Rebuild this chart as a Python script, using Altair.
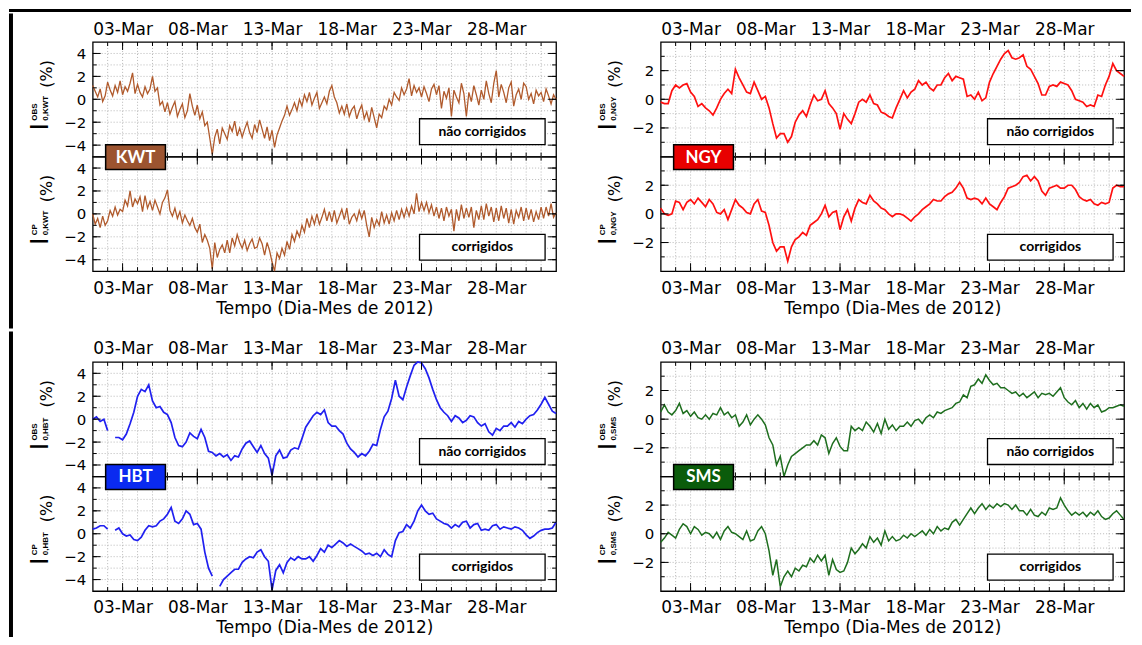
import altair as alt
import pandas as pd
from datetime import datetime, timedelta

START = datetime(2012, 3, 1)

# KWT: 6 samples per day (every 4 h); other stations: 4 per day (every 6 h)
kwt_obs = [1.2, 0.7, 0.2, 0.9, -0.2, 0.3,
           1.5, 0.8, 0.3, 1.2, 0.6, 1.6,
           0.4, 1.1, 0.7, 1.4, 2.3, 0.5,
           1.3, 0.6, 0.2, 1.1, 0.5, 0.9,
           2.0, 0.7, 1.0, -0.5, -0.2, -1.1,
           -0.3, -1.3, -0.7, -0.2, -1.5, -0.9,
           -0.4, -1.6, -1.0, 0.5, -0.6, -1.4,
           -0.5, -1.7, -1.1, -2.3, -2.0, -3.4,
           -4.8, -3.3, -2.6, -3.9, -2.5, -3.0,
           -3.5, -2.3, -2.8, -1.9, -3.2, -2.5,
           -3.3, -2.6, -2.0, -2.9, -3.4, -2.2,
           -2.9, -1.8, -2.6, -3.4, -2.4, -3.6,
           -2.7, -4.2, -3.1, -2.5, -1.9, -1.4,
           -0.6, -1.4, -0.9, -0.3, -1.0, 0.0,
           -0.6, 0.4, -0.2, 0.6, -0.5, 0.1,
           0.6, -0.8, -0.3, 0.2, -0.4, 0.7,
           1.2, 0.2, -0.3, -1.2, -0.6, -1.3,
           -0.4, -1.5, -0.9, -0.6, -1.7, -1.0,
           -0.5, -1.7, -1.1, -2.0, -0.7, -1.6,
           -2.5, -1.3, -1.6, -0.6, -0.9, 0.0,
           -0.5, 0.6, 0.2, -0.1, 1.0, 0.4,
           0.9, 1.8, 0.3, 1.2, 0.6, 1.0,
           0.2, 1.1, 0.5, -0.2, 0.9, 1.3,
           0.4, 1.2, -0.8, 0.7, 0.1, 1.0,
           -1.5, 0.8, 0.2, -0.3, 1.4, 0.5,
           -1.5, 0.6, -0.2, 1.2, 0.4, -0.5,
           0.8, 0.0, 1.6, 0.5, -0.3, 1.4,
           2.5, 0.2, 1.3, 0.6, -0.3, 1.0,
           1.5, -0.6, 0.4, 0.9, 0.0, 1.4,
           1.1, 0.0, 0.5, -0.4, 0.8, 0.3,
           0.6, -0.2, 0.9, 0.3, -0.4, 0.4,
           0.0]
kwt_cp = [0.0, -0.9, -0.4, -1.2, -0.2, -1.0,
          -0.6, 0.3, -0.2, 0.6, -0.1, 0.4,
          0.2, 1.2, 0.7, 2.0, 0.6, 1.3,
          0.9, 1.5, 0.2, 1.6, 0.5, 1.1,
          0.3, 1.2, 0.6, 0.0, 1.0, 1.4,
          2.1, 0.3, -0.2, 0.5, -0.4, 0.2,
          -0.8, -0.1, -0.6, -1.0, -0.4, -1.2,
          -1.6, -0.9, -2.5, -1.8, -2.3, -3.0,
          -4.8, -2.5, -3.8, -3.1, -2.7, -3.4,
          -2.3, -3.4, -2.1, -2.8, -1.8, -2.5,
          -3.0, -2.3, -3.2, -2.6, -2.2, -3.0,
          -2.9, -2.1, -2.6, -3.6, -2.5, -3.2,
          -4.2, -5.0, -3.4, -3.9, -3.0, -3.6,
          -2.4, -3.1, -1.8, -2.4, -1.5, -2.0,
          -1.0, -1.6, -0.4, -1.2, -0.2, -0.9,
          0.0, -0.9, -0.3, 0.4, -0.6, 0.2,
          -0.7, 0.3, -0.8, -0.2, 0.4, -0.5,
          0.5, -0.9, -0.3, 0.0, -0.6, 0.3,
          -0.4, 0.3, -1.0, -2.0, -0.3, -1.2,
          -0.5, -1.0, 0.2, -0.8, -0.1, -0.9,
          0.1, -0.6, 0.3, -0.5, 0.4, -0.3,
          0.5, -0.2, 0.7, 0.0, 1.8, 0.2,
          1.0, 0.3, 1.0, 0.1, 0.8, -0.2,
          0.6, -0.4, 0.5, -0.6, 0.6, -0.2,
          0.4, -1.5, 0.4, -0.6, 0.8, -0.4,
          0.5, -0.3, 0.6, -1.2, 0.3, -0.5,
          0.7, -0.5, 0.9, -0.2, 0.6, -0.7,
          0.5, -0.6, 0.7, -0.4, 0.5, -0.8,
          0.4, -0.9, 0.3, -0.3, 0.6, -0.6,
          0.5, -0.5, 0.4, -0.7, 0.2, -0.5,
          0.6, -0.4, 0.6, -0.2, 0.9, -0.3,
          0.1]
ngy_obs = [-0.2, -0.3, -0.3, 0.6, 1.0, 0.8, 1.0, 1.1, 0.5, 0.2, -0.5, -0.3, -0.6, -0.8, -1.1, -0.6,
           0.0, 0.4, 0.7, 0.4, 2.1, 1.5, 1.0, 0.5, 0.4, 1.2, 0.6, 0.0, 0.2, -0.6, -1.7, -2.7,
           -2.4, -2.4, -3.0, -2.6, -1.6, -1.1, -0.8, -1.2, -0.4, 0.3, -0.1, 0.0, 0.6, -0.3, -0.6, -1.0,
           -2.1, -1.0, -1.4, -1.7, -1.0, -0.2, 0.0, -0.2, 0.3, -0.3, -0.4, -0.9, -1.0, -1.2, -1.3, -0.6,
           0.0, 0.6, 0.1, 0.5, 0.7, 1.3, 1.0, 1.2, 0.8, 0.6, 1.0, 1.0, 1.5, 1.8, 1.3, 1.6,
           1.5, 1.4, 0.2, 0.3, 0.0, 0.5, -0.1, 0.1, 1.2, 1.8, 2.3, 2.8, 3.2, 3.4, 2.9, 2.8,
           2.9, 3.1, 2.3, 2.1, 1.6, 1.1, 0.3, 0.3, 0.9, 1.0, 0.9, 1.2, 1.1, 1.0, 0.6, 0.0,
           -0.1, -0.2, -0.5, -0.4, -0.5, 0.3, 0.2, 1.0, 1.6, 2.5, 2.0, 1.8, 1.6]
ngy_cp = [0.4, 0.0, -0.1, 0.0, 0.9, 0.8, 0.3, 0.8, 1.0, 0.7, 1.1, 0.8, 0.5, 1.0, 0.7, 0.1,
          0.0, 0.3, -0.4, 0.3, 1.0, 0.6, 0.4, 0.1, 0.0, 0.7, 1.0, 0.2, 0.1, -0.8, -2.0, -2.6,
          -2.3, -2.3, -3.3, -2.3, -1.8, -1.6, -1.3, -1.5, -0.8, -0.6, -0.4, 0.0, 0.6, -0.2, 0.1, 0.2,
          -1.1, -0.2, 0.3, -0.5, 0.4, 1.0, 0.8, 0.7, 1.3, 0.9, 0.7, 0.4, 0.3, 0.0, -0.2, 0.0,
          0.0, -0.1, -0.3, -0.5, -0.2, 0.0, 0.3, 0.5, 0.7, 1.0, 0.9, 0.9, 1.2, 1.4, 1.5, 1.8,
          2.2, 1.8, 1.1, 1.0, 1.1, 1.0, 0.7, 1.1, 0.7, 0.5, 0.3, 0.8, 1.2, 1.8, 1.9, 2.0,
          2.2, 2.6, 2.7, 2.3, 2.6, 2.3, 1.6, 1.3, 1.8, 1.9, 2.0, 1.8, 1.8, 2.0, 2.0, 1.7,
          1.2, 1.0, 0.9, 1.0, 0.7, 0.6, 0.8, 0.7, 0.8, 1.8, 2.0, 1.9, 1.9]
hbt_obs = [0.0, 0.2, -0.2, 0.0, -1.0, None, -1.6, -1.6, -1.8, -1.3, -0.4, 0.6, 2.0, 2.6, 2.4, 3.0,
           1.6, 1.0, 1.1, 0.6, 0.4, -0.3, -1.6, -2.3, -2.4, -2.0, -1.2, -1.5, -1.7, -0.9, -1.6, -2.8,
           -2.9, -3.2, -3.0, -3.3, -3.1, -3.6, -3.2, -3.3, -2.6, -2.1, -1.9, -2.4, -2.9, -2.3, -3.0, -3.4,
           -4.9, -3.2, -2.7, -3.4, -3.3, -2.7, -2.5, -2.6, -1.7, -0.7, -0.2, 0.3, 0.6, 0.4, 0.8, -0.3,
           -0.6, -0.6, -1.0, -1.3, -2.1, -2.6, -2.9, -3.3, -3.0, -3.2, -2.8, -2.2, -2.3, -0.9, 0.2, 0.7,
           1.8, 3.4, 2.0, 1.7, 2.8, 3.8, 4.7, 5.0, 4.9, 4.4, 3.6, 2.6, 1.7, 1.0, 0.6, 0.3,
           -0.2, 0.3, 0.1, -0.3, -0.1, 0.3, 0.2, -0.3, -0.6, -0.4, -1.1, -1.4, -0.8, -1.0, -0.6, -0.6,
           -0.3, -0.7, -0.2, -0.4, 0.0, 0.3, 0.4, 0.8, 1.3, 1.9, 1.3, 0.7, 0.5]
hbt_cp = [0.4, 0.5, 0.7, 0.7, 0.4, None, 0.3, 0.5, 0.0, -0.2, -0.1, -0.5, -0.6, -0.3, 0.3, 0.7,
          0.6, 0.7, 1.1, 1.3, 1.7, 2.3, 1.1, 0.9, 1.3, 2.0, 1.7, 0.8, 0.9, 0.4, -1.6, -3.0,
          -3.7, None, -4.6, -4.0, -3.7, -3.4, -3.1, -3.1, -2.5, -2.2, -2.0, -2.1, -1.6, -1.4, -2.0, -2.4,
          -4.9, -3.2, -2.7, -3.4, -2.5, -2.1, -2.3, -2.0, -2.2, -2.2, -2.0, -2.4, -1.9, -1.3, -1.6, -1.0,
          -1.2, -0.9, -0.6, -0.8, -1.1, -0.9, -1.1, -1.3, -1.5, -1.8, -1.7, -1.9, -1.7, -2.0, -1.4, -1.8,
          -2.0, -0.6, 0.1, 0.2, 0.8, 0.5, 1.1, 2.0, 2.5, 2.0, 1.7, 1.8, 1.3, 1.1, 0.9, 0.8,
          0.5, 0.8, 0.6, 1.0, 1.1, 0.5, 0.8, 0.9, 0.3, 0.4, 0.3, 0.7, 0.8, 0.4, 0.6, 0.5,
          0.4, 0.6, 0.5, 0.3, -0.1, -0.4, -0.2, 0.1, 0.3, 0.4, 0.4, 0.5, 1.0]
sms_obs = [0.5, 1.0, 0.5, 0.3, 0.6, 1.1, 0.4, 0.6, 0.2, 0.5, 0.1, 0.0, 0.3, 0.0, 0.4, 0.3,
           0.8, 0.3, 0.5, 0.1, 0.3, -0.5, -0.2, 0.3, -0.4, 0.0, 0.3, 0.0, -0.4, -1.3, -1.8, -3.2,
           -2.6, -4.0, -3.2, -2.6, -2.4, -2.2, -2.0, -1.8, -1.8, -1.5, -1.8, -1.1, -1.3, -2.4, -1.7, -1.3,
           -1.9, -2.2, -2.2, -0.5, -0.8, -0.6, -0.8, -0.2, -0.5, -0.9, -0.3, -1.0, 0.0, -0.7, -0.4, -0.8,
           -0.5, -0.5, -0.2, -0.5, -0.1, 0.0, -0.3, 0.1, 0.3, 0.1, 0.5, 0.4, 0.6, 0.7, 0.8, 1.1,
           1.2, 1.7, 1.5, 2.3, 2.4, 2.8, 2.5, 3.1, 2.7, 2.4, 2.5, 2.2, 2.2, 2.0, 1.8, 1.9,
           1.6, 1.8, 1.5, 1.7, 1.9, 1.5, 1.8, 1.7, 1.8, 1.6, 1.9, 2.2, 1.5, 1.2, 1.0, 1.3,
           0.8, 1.1, 0.7, 1.1, 0.8, 1.0, 0.5, 0.6, 0.8, 0.8, 0.9, 1.0, 0.9]
sms_cp = [-0.6, -0.3, 0.1, -0.1, -0.3, 0.3, 0.7, 0.5, 0.0, 0.5, 0.3, -0.1, 0.1, 0.0, -0.3, 0.1,
          -0.4, 0.2, 0.5, 0.1, 0.0, -0.2, -0.4, 0.2, -0.5, -0.4, 0.2, 0.5, 0.0, -1.2, -2.9, -1.8,
          -3.7, -3.0, -2.6, -3.0, -2.4, -2.6, -2.2, -2.3, -1.7, -2.0, -1.5, -1.9, -1.5, -2.9, -1.8, -2.5,
          -2.7, -2.6, -2.0, -1.0, -1.4, -1.1, -0.7, -1.0, -0.2, -0.6, -0.3, -0.8, 0.2, -0.5, -0.2, -0.5,
          -0.4, -0.1, -0.3, 0.0, -0.2, 0.0, 0.2, -0.1, 0.3, 0.0, 0.5, 0.2, 0.4, 0.3, 0.8, 1.0,
          0.6, 1.0, 1.4, 1.8, 1.4, 1.8, 2.1, 1.7, 2.0, 1.8, 2.1, 1.9, 2.1, 2.0, 1.7, 2.0,
          1.6, 1.6, 1.3, 1.7, 1.3, 1.2, 1.5, 1.3, 1.8, 1.7, 1.8, 2.5, 2.0, 1.6, 1.3, 1.5,
          1.3, 1.5, 1.2, 1.5, 1.3, 1.6, 1.2, 1.0, 1.1, 1.4, 1.6, 1.3, 1.0]

stations_grid = [["KWT", "NGY"], ["HBT", "SMS"]]
series = {
    ("KWT", "obs"): kwt_obs, ("KWT", "cp"): kwt_cp,
    ("NGY", "obs"): ngy_obs, ("NGY", "cp"): ngy_cp,
    ("HBT", "obs"): hbt_obs, ("HBT", "cp"): hbt_cp,
    ("SMS", "obs"): sms_obs, ("SMS", "cp"): sms_cp,
}
step_hours = {"KWT": 4, "NGY": 6, "HBT": 6, "SMS": 6}
line_colors = {"KWT": "#B05A2C", "NGY": "#FF1010", "HBT": "#2020F0", "SMS": "#1E6E1E"}
line_widths = {"KWT": 1.3, "NGY": 1.7, "HBT": 1.7, "SMS": 1.5}
box_colors = {"KWT": "#9C5430", "NGY": "#E80000", "HBT": "#0A2AF0", "SMS": "#0B5C0B"}
y_domains = {"KWT": [-5, 5], "NGY": [-4, 4], "HBT": [-5, 5], "SMS": [-4, 4]}
y_label_values = {"KWT": [-4, -2, 0, 2, 4], "NGY": [-2, 0, 2], "HBT": [-4, -2, 0, 2, 4], "SMS": [-2, 0, 2]}
x_tick_labels = ["03-Mar", "08-Mar", "13-Mar", "18-Mar", "23-Mar", "28-Mar"]
kind_text = {"obs": "não corrigidos", "cp": "corrigidos"}
kind_super = {"obs": "OBS", "cp": "CP"}
x_title = "Tempo (Dia-Mes de 2012)"

W, H = 465, 115
LEFT = 84          # distance from the figure's left edge to the first plot area
TOTAL_W = 1126
GRID = "#a6a6a6"
FONT = "DejaVu Sans"


def iso(dt):
    return dt.strftime("%Y-%m-%dT%H:%M:%SZ")


def day_iso(d):
    return iso(START + timedelta(days=d - 1))


def series_df(vals, step):
    rows, seg = [], 0
    for i, v in enumerate(vals):
        if v is None:
            seg += 1
            continue
        rows.append({"time": iso(START + timedelta(hours=step * i)), "val": v, "seg": seg})
    return pd.DataFrame(rows)


x_tick_days = [int(s.split("-")[0]) for s in x_tick_labels]
x_scale = alt.Scale(type="utc", domain=[alt.DateTime(year=2012, month=3, date=1, utc=True),
                                        alt.DateTime(year=2012, month=4, date=1, utc=True)])
x_values = [alt.DateTime(year=2012, month=3, date=d, utc=True) for d in x_tick_days]
all_days_df = pd.DataFrame({"time": [day_iso(d) for d in range(2, 32)]})
major_days_df = pd.DataFrame({"time": [day_iso(d) for d in x_tick_days]})
one = pd.DataFrame({"k": [0]})


def panel(st, kind, col, row):
    lo, hi = y_domains[st]
    ys = alt.Scale(domain=[lo, hi], nice=False, zero=False)
    top = kind == "obs"
    if top:
        xaxis = alt.Axis(orient="top", values=x_values, labelExpr="utcFormat(datum.value, '%d-%b')",
                         title=None, ticks=False, tickSize=0, domain=False, grid=False,
                         labelFontSize=17, labelPadding=4, labelFlush=False, labelOverlap=False)
    else:
        xaxis = alt.Axis(orient="bottom", values=x_values, labelExpr="utcFormat(datum.value, '%d-%b')",
                         title=x_title, ticks=False, tickSize=0, domain=False, grid=False,
                         labelFontSize=17, labelPadding=9, labelFlush=False, labelOverlap=False,
                         titleFontSize=17, titleFontWeight="normal", titlePadding=4)
    yaxis = alt.Axis(values=y_label_values[st], title=None, ticks=False, tickSize=0, domain=False,
                     grid=False, labelFontSize=15, labelPadding=7)

    minor_y = pd.DataFrame({"val": list(range(lo + 1, hi))})
    major_y = pd.DataFrame({"val": y_label_values[st]})

    def X():
        return alt.X("time:T", scale=x_scale, axis=xaxis)

    def Y():
        return alt.Y("val:Q", scale=ys, axis=yaxis)

    layers = []
    layers.append(alt.Chart(all_days_df).mark_rule(color=GRID, strokeWidth=0.8, strokeDash=[1, 2])
                  .encode(x=X(), y=alt.value(0), y2=alt.value(H)))
    layers.append(alt.Chart(minor_y).mark_rule(color=GRID, strokeWidth=0.8, strokeDash=[1, 2])
                  .encode(y=Y(), x=alt.value(0), x2=alt.value(W)))
    layers.append(alt.Chart(series_df(series[(st, kind)], step_hours[st]))
                  .mark_line(color=line_colors[st], strokeWidth=line_widths[st])
                  .encode(x=X(), y=Y(), detail="seg:N"))
    for df_, ln in [(all_days_df, 4), (major_days_df, 8)]:
        layers.append(alt.Chart(df_).mark_rule(color="black", strokeWidth=1)
                      .encode(x=X(), y=alt.value(0), y2=alt.value(ln)))
        layers.append(alt.Chart(df_).mark_rule(color="black", strokeWidth=1)
                      .encode(x=X(), y=alt.value(H), y2=alt.value(H - ln)))
    for df_, ln in [(minor_y, 4), (major_y, 8)]:
        layers.append(alt.Chart(df_).mark_rule(color="black", strokeWidth=1)
                      .encode(y=Y(), x=alt.value(0), x2=alt.value(ln)))
        layers.append(alt.Chart(df_).mark_rule(color="black", strokeWidth=1)
                      .encode(y=Y(), x=alt.value(W), x2=alt.value(W - ln)))

    # y title:  I ^{OBS/CP} _{0,STATION} (%)
    layers.append(alt.Chart(one).mark_text(text="(%)", angle=270, font=FONT, fontSize=16,
                                           align="center", baseline="middle", color="black")
                  .encode(x=alt.value(-46), y=alt.value(32)))
    layers.append(alt.Chart(one).mark_text(text="I", angle=270, font=FONT, fontSize=24,
                                           align="center", baseline="middle", color="black")
                  .encode(x=alt.value(-52), y=alt.value(85)))
    layers.append(alt.Chart(one).mark_text(text=kind_super[kind], angle=270, font="Liberation Sans",
                                           fontWeight="bold", fontSize=8, align="left",
                                           baseline="middle", color="black")
                  .encode(x=alt.value(-58), y=alt.value(79)))
    layers.append(alt.Chart(one).mark_text(text="0," + st, angle=270, font="Liberation Sans",
                                           fontWeight="bold", fontSize=8, align="left",
                                           baseline="middle", color="black")
                  .encode(x=alt.value(-47), y=alt.value(79)))

    # legend box
    by0, by1 = (77, 103) if top else (78, 104)
    layers.append(alt.Chart(one).mark_rect(fill="white", stroke="black", strokeWidth=1.3)
                  .encode(x=alt.value(328), x2=alt.value(454), y=alt.value(by0), y2=alt.value(by1)))
    layers.append(alt.Chart(one).mark_text(text=kind_text[kind], font="Lato", fontWeight="bold",
                                           fontSize=14, color="black", align="center", baseline="middle")
                  .encode(x=alt.value(391), y=alt.value((by0 + by1) / 2)))

    if top:
        # invisible extent frame (fixes the layout) + left figure border
        ex0, ex1 = (-LEFT, 498) if col == 0 else (-70, 474)
        ey0, ey1 = (-28.5, 287.5) if row == 0 else (-30.5, 276)
        layers.append(alt.Chart(one).mark_rect(opacity=0, fill="white")
                      .encode(x=alt.value(ex0), x2=alt.value(ex1), y=alt.value(ey0), y2=alt.value(ey1)))
        if col == 0:
            layers.append(alt.Chart(one).mark_rect(fill="black")
                          .encode(x=alt.value(-LEFT), x2=alt.value(-LEFT + 4), y=alt.value(ey0), y2=alt.value(ey1)))
    else:
        layers.append(alt.Chart(one).mark_rect(fill=box_colors[st], stroke="black", strokeWidth=1.5)
                      .encode(x=alt.value(13), x2=alt.value(73), y=alt.value(-12), y2=alt.value(13)))
        layers.append(alt.Chart(one).mark_text(text=st, font="Lato", fontWeight="bold", fontSize=17,
                                               color="white", align="center", baseline="middle")
                      .encode(x=alt.value(43), y=alt.value(1)))

    return alt.layer(*layers).properties(width=W, height=H)


# top border of the figure frame (same left origin as the panels)
border = (alt.Chart(one).mark_rect(fill="black")
          .encode(x=alt.value(-LEFT), x2=alt.value(TOTAL_W - LEFT), y=alt.value(0), y2=alt.value(3))
          .properties(width=W, height=3, view=alt.ViewBackground(strokeWidth=0)))

rows = [border]
for r, pair in enumerate(stations_grid):
    cols = []
    for c, st in enumerate(pair):
        cols.append(alt.vconcat(panel(st, "obs", c, r), panel(st, "cp", c, r), spacing=0, bounds="flush"))
    rows.append(alt.hconcat(*cols, spacing=0))

chart = (alt.vconcat(*rows, spacing=0)
         .properties(padding=0, background="white")
         .configure_view(stroke="black", strokeWidth=1.3)
         .configure_axis(labelFont=FONT, titleFont=FONT, labelColor="black", titleColor="black"))

chart.save("out.html", embed_options={"renderer": "svg", "actions": False})
